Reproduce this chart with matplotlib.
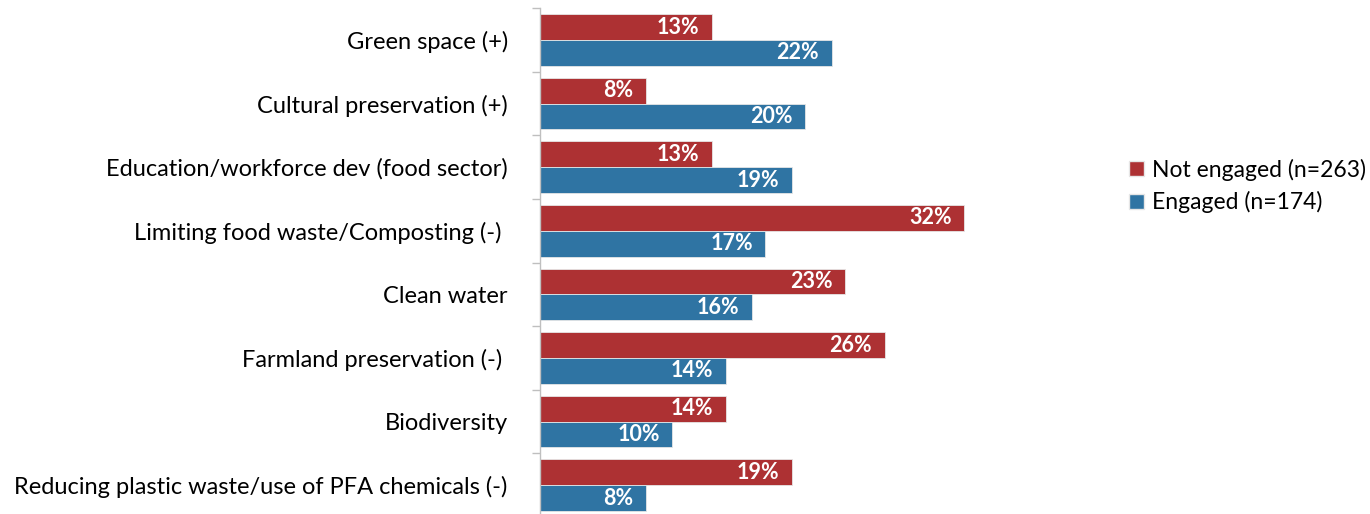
import numpy as np
import matplotlib.pyplot as plt
from matplotlib.patches import Patch

categories = [
    "Green space (+)",
    "Cultural preservation (+)",
    "Education/workforce dev (food sector)",
    "Limiting food waste/Composting (-) ",
    "Clean water",
    "Farmland preservation (-) ",
    "Biodiversity",
    "Reducing plastic waste/use of PFA chemicals (-)",
]
not_engaged = [13, 8, 13, 32, 23, 26, 14, 19]
engaged = [22, 20, 19, 17, 16, 14, 10, 8]
series_names = ["Not engaged (n=263)", "Engaged (n=174)"]

RED = "#AD3133"
BLUE = "#2F74A3"

plt.rcParams["font.family"] = ["Lato", "DejaVu Sans"]

fig = plt.figure(figsize=(13.7, 5.14), dpi=100)
ax = fig.add_axes([0.394, -0.006, 0.3875, 0.990])

y = np.arange(len(categories))
h = 0.406
bars_red = ax.barh(y - h / 2, not_engaged, height=h, color=RED,
                   edgecolor="#E6E6E6", linewidth=0.6)
bars_blue = ax.barh(y + h / 2, engaged, height=h, color=BLUE,
                    edgecolor="#E6E6E6", linewidth=0.6)

for bars, vals in ((bars_red, not_engaged), (bars_blue, engaged)):
    for b, v in zip(bars, vals):
        ax.text(v - 0.95, b.get_y() + b.get_height() / 2, f"{v}%",
                ha="right", va="center", color="white",
                fontsize=15.5, fontweight="bold")

ax.set_xlim(0, 40)
ax.set_ylim(len(categories) - 0.5, -0.5)

ax.set_yticks(y)
ax.set_yticklabels(categories, fontsize=17)
ax.tick_params(axis="y", which="major", length=0, pad=23)
ax.set_yticks(np.arange(-0.5, len(categories)), minor=True)
ax.tick_params(axis="y", which="minor", length=6, color="#BFBFBF", width=1)
ax.set_xticks([])

for side in ("top", "right", "bottom"):
    ax.spines[side].set_visible(False)
ax.spines["left"].set_color("#BFBFBF")
ax.spines["left"].set_linewidth(1)

handles = [Patch(facecolor=RED, edgecolor="#E6E6E6"),
           Patch(facecolor=BLUE, edgecolor="#E6E6E6")]
fig.legend(handles, series_names, loc="center left",
           bbox_to_anchor=(1120 / 1370, 1 - 186 / 514),
           frameon=False, fontsize=16.5, handlelength=0.65, handleheight=0.65,
           handletextpad=0.35, labelspacing=0.45, borderaxespad=0)

fig.savefig("out.png", dpi=100)
